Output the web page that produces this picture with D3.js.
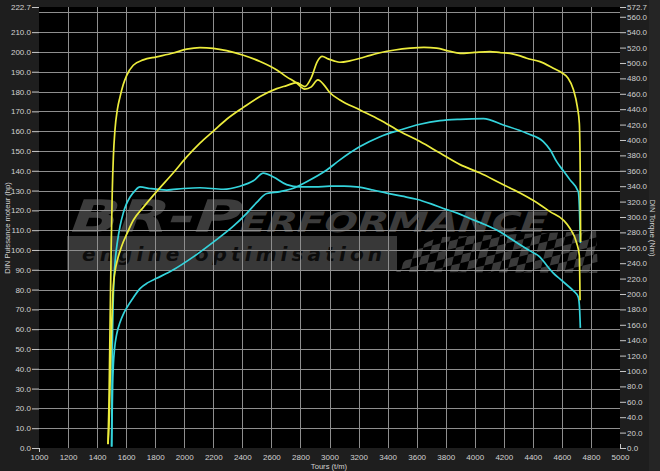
<!DOCTYPE html>
<html><head><meta charset="utf-8">
<script src="https://cdn.jsdelivr.net/npm/d3@7"></script>
<style>html,body{margin:0;padding:0;background:#1e1e1e;overflow:hidden}</style>
</head><body>
<svg id="c" width="660" height="471"></svg>
<script>
// ---------- data ----------
const rpmTicks = [1000,1200,1400,1600,1800,2000,2200,2400,2600,2800,3000,3200,3400,3600,3800,4000,4200,4400,4600,4800,5000];
const hpTicks = [0,10,20,30,40,50,60,70,80,90,100,110,120,130,140,150,160,170,180,190,200,210,222.7];
const hpGrid = [10,20,30,40,50,60,70,80,90,100,110,120,130,140,150,160,170,180,190,200,210,220];
const nmTicks = [0,20,40,60,80,100,120,140,160,180,200,220,240,260,280,300,320,340,360,380,400,420,440,460,480,500,520,540,560,572.7];

const tunedTorqueRpm = [1475,1482,1490,1497,1504,1512,1523,1540,1558,1580,1604,1649,1718,1810,1925,2017,2108,2200,2292,2407,2522,2637,2705,2774,2830,2875,2920,2960,3000,3072,3210,3348,3486,3623,3761,3899,4037,4174,4312,4449,4518,4610,4656,4702,4720,4725];
const tunedTorqueNm = [5,60,170,260,330,378,413,440,456,472,484,497,504,508,513,518,520,519,516,510,502,491,482,474,466,469,478,472,462,452,439,426,411,398,383,368,357,344,331,316,307,296,285,266,250,192];

const tunedPowerRpm = [1475,1482,1490,1497,1504,1512,1523,1540,1558,1580,1604,1649,1718,1810,1925,2017,2108,2200,2292,2407,2522,2637,2705,2774,2830,2875,2915,2950,2990,3030,3072,3140,3210,3280,3348,3450,3555,3650,3738,3820,3899,4000,4105,4180,4243,4300,4358,4449,4541,4600,4640,4679,4706,4720,4726,4729];
const tunedPowerHp = [2,12,35,55,70,82,89,95,99.5,104,108,115,121.5,129.5,139,147,154,160,166,172,177.5,181.5,183,184.5,182.5,187,195,197.8,196.5,195.5,194.8,195.5,196.8,198.3,199.6,201,201.9,202.3,201.9,200.5,199.3,199.8,200.2,199.6,199.3,198.3,196.8,195.1,191.8,189.5,187,181,172.4,164,140,104];

const stockTorqueRpm = [1500,1502,1505,1510,1517,1527,1540,1558,1580,1600,1627,1660,1695,1764,1879,1994,2108,2268,2384,2476,2545,2614,2705,2797,2900,3003,3100,3187,3300,3394,3500,3600,3700,3784,3880,3967,4060,4151,4230,4312,4380,4449,4500,4541,4590,4633,4680,4713,4722,4727];
const stockTorqueNm = [2,60,130,185,222,248,268,288,305,316,326,334,339,337,335,337,338,336,340,347,357,352,342,339,339,340,340,339,335,331,327,323,317,311,305,298,291,283,274,264,256,248,236,227,219,212,204,196,180,156];

const stockPowerRpm = [1500,1503,1507,1512,1520,1535,1558,1580,1604,1650,1695,1750,1810,1925,2062,2200,2338,2430,2499,2568,2660,2751,2843,2981,3072,3210,3348,3486,3623,3761,3899,4060,4197,4358,4472,4520,4564,4610,4656,4713,4722,4727];
const stockPowerHp = [0.7,15,32,42,50,57.5,63.5,67.5,70.8,76,80.5,83.5,85.7,90,96.5,104,112,118.5,124,128.5,129.5,131.2,134.5,140.4,145.5,152.2,157.2,160.6,163.5,165.3,166,166.3,163.1,158.9,154.7,150.5,144.6,140,135.4,129.4,118,103.5];

// ---------- layout ----------
const L = 39, R = 620, T = 7, B = 448;
const svg = d3.select('#c');
const font = '"Liberation Sans", Arial, sans-serif';
const txtCol = '#d2d2d2';
const gridCol = '#8e8e8e';
const yellow = '#ecec3c';
const cyan = '#34d4dc';

const x = d3.scaleLinear().domain([1000,5000]).range([L,R]);
const yHp = d3.scaleLinear().domain([0,222.7]).range([B,T]);
const yNm = d3.scaleLinear().domain([0,572.7]).range([B,T]);

// backgrounds
svg.append('rect').attr('x',0).attr('y',0).attr('width',660).attr('height',471).attr('fill','#1e1e1e');
svg.append('rect').attr('x',649).attr('y',0).attr('width',11).attr('height',471).attr('fill','#252525');
svg.append('rect').attr('x',L).attr('y',T).attr('width',R-L).attr('height',B-T).attr('fill','#000');

// ---------- watermark ----------
const defs = svg.append('defs');
defs.append('clipPath').attr('id','flagClip').append('path')
  .attr('d','M396,272 C408,256 420,242 442,237 L596,231 L598,273 Z');
const wm = svg.append('g');
wm.append('rect').attr('x',67).attr('y',236).attr('width',330).attr('height',34).attr('fill','#383838');
wm.append('text').attr('x',82).attr('y',261)
  .attr('font-family','"DejaVu Sans", sans-serif').attr('font-weight','bold').attr('font-style','italic')
  .attr('font-size',20).attr('fill','#0c0c0c')
  .attr('textLength',300).attr('lengthAdjust','spacing')
  .text('engine optimisation');
const logo = wm.append('text').attr('transform','translate(66,232) skewX(-20)')
  .attr('font-family','"DejaVu Sans", sans-serif').attr('font-weight','bold')
  .attr('fill','#3c3c3c').attr('textLength',478).attr('lengthAdjust','spacingAndGlyphs');
logo.append('tspan').attr('font-size',45).text('BR-P');
logo.append('tspan').attr('font-size',28).text('ERFORMANCE');
const flag = wm.append('g').attr('clip-path','url(#flagClip)');
const fg = flag.append('g').attr('transform','translate(480,250) rotate(-14) skewX(-28)');
for (let r=-6;r<7;r++) for (let c=-16;c<22;c++) {
  if (((r+c)%2+2)%2===0) fg.append('rect').attr('x',c*9).attr('y',r*8).attr('width',9).attr('height',8).attr('fill','#3a3a3a');
}

// ---------- grid ----------
const grid = svg.append('g').attr('stroke',gridCol).attr('stroke-width',1).attr('shape-rendering','crispEdges');
grid.selectAll('line.v').data(rpmTicks.filter(d=>d>1000 && d<5000)).join('line')
  .attr('x1',d=>Math.round(x(d))+0.5).attr('x2',d=>Math.round(x(d))+0.5).attr('y1',T).attr('y2',B);
grid.selectAll('line.h').data(hpGrid).join('line')
  .attr('y1',d=>Math.round(yHp(d))+0.5).attr('y2',d=>Math.round(yHp(d))+0.5).attr('x1',L).attr('x2',R);

// ---------- curves ----------
function draw(rpms, vals, yScale, color) {
  const line = d3.line().x(d=>x(d[0])).y(d=>yScale(d[1])).curve(d3.curveMonotoneX);
  svg.append('path').datum(d3.zip(rpms, vals)).attr('d',line)
    .attr('fill','none').attr('stroke',color).attr('stroke-width',1.7).attr('stroke-linejoin','round');
}
draw(stockPowerRpm, stockPowerHp, yHp, cyan);
draw(stockTorqueRpm, stockTorqueNm, yNm, cyan);
draw(tunedPowerRpm, tunedPowerHp, yHp, yellow);
draw(tunedTorqueRpm, tunedTorqueNm, yNm, yellow);

// ---------- axes ----------
function styleAxis(g){
  g.select('.domain').remove();
  g.selectAll('.tick line').attr('stroke','#c8c8c8');
  g.selectAll('.tick text').attr('fill',txtCol).attr('font-family',font).attr('font-size',8);
}
svg.append('g').attr('transform',`translate(${L},0)`)
  .call(d3.axisLeft(yHp).tickValues(hpTicks).tickFormat(d3.format('.1f')).tickSize(7).tickPadding(1))
  .call(styleAxis);
svg.append('g').attr('transform',`translate(${R},0)`)
  .call(d3.axisRight(yNm).tickValues(nmTicks).tickFormat(d3.format('.1f')).tickSize(6).tickPadding(1))
  .call(styleAxis);
svg.append('g').attr('transform',`translate(0,${B})`)
  .call(d3.axisBottom(x).tickValues(rpmTicks).tickFormat(d3.format('d')).tickSize(0).tickPadding(6.5))
  .call(styleAxis);
svg.append('line').attr('x1',L+0.5).attr('x2',L+0.5).attr('y1',B).attr('y2',B+4).attr('stroke','#c8c8c8');
svg.append('line').attr('x1',R+0.5).attr('x2',R+0.5).attr('y1',B).attr('y2',B-4).attr('stroke','#c8c8c8');

// titles
svg.append('text').attr('transform','translate(8,228) rotate(-90)').attr('text-anchor','middle')
  .attr('dominant-baseline','middle').attr('fill',txtCol).attr('font-family',font).attr('font-size',7.6)
  .text('DIN Puissance moteur (hp)');
svg.append('text').attr('transform','translate(652,228) rotate(90)').attr('text-anchor','middle')
  .attr('dominant-baseline','middle').attr('fill',txtCol).attr('font-family',font).attr('font-size',7.6)
  .text('DIN Torque (Nm)');
svg.append('text').attr('x',329).attr('y',468.5).attr('text-anchor','middle')
  .attr('fill',txtCol).attr('font-family',font).attr('font-size',7.6)
  .text('Tours (t/m)');
</script>
</body></html>
